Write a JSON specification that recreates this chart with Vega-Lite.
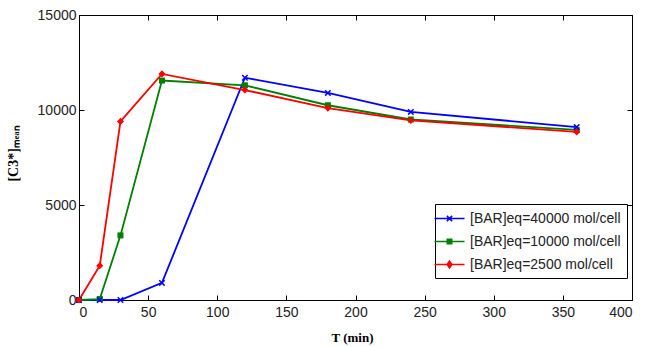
{
  "$schema": "https://vega.github.io/schema/vega-lite/v6.json",
  "autosize": "none",
  "width": 553,
  "height": 285,
  "padding": {"left": 79, "top": 15, "right": 14, "bottom": 47},
  "background": "white",
  "config": {
    "view": {"stroke": "black", "strokeWidth": 1},
    "axis": {
      "grid": false,
      "domainColor": "black",
      "domainWidth": 1,
      "tickColor": "black",
      "tickSize": -5,
      "tickWidth": 1,
      "labelFont": "Liberation Sans",
      "labelFontSize": 14,
      "labelColor": "#222",
      "titleFont": "Liberation Serif",
      "titleFontSize": 13,
      "titleFontWeight": "bold",
      "titleColor": "black",
      "format": "d"
    }
  },
  "data": {
    "values": [
      {"t": 0, "c": 0, "series": "[BAR]eq=40000 mol/cell"},
      {"t": 15, "c": 0, "series": "[BAR]eq=40000 mol/cell"},
      {"t": 30, "c": 0, "series": "[BAR]eq=40000 mol/cell"},
      {"t": 60, "c": 900, "series": "[BAR]eq=40000 mol/cell"},
      {"t": 120, "c": 11700, "series": "[BAR]eq=40000 mol/cell"},
      {"t": 180, "c": 10900, "series": "[BAR]eq=40000 mol/cell"},
      {"t": 240, "c": 9900, "series": "[BAR]eq=40000 mol/cell"},
      {"t": 360, "c": 9100, "series": "[BAR]eq=40000 mol/cell"},
      {"t": 0, "c": 0, "series": "[BAR]eq=10000 mol/cell"},
      {"t": 15, "c": 50, "series": "[BAR]eq=10000 mol/cell"},
      {"t": 30, "c": 3400, "series": "[BAR]eq=10000 mol/cell"},
      {"t": 60, "c": 11550, "series": "[BAR]eq=10000 mol/cell"},
      {"t": 120, "c": 11300, "series": "[BAR]eq=10000 mol/cell"},
      {"t": 180, "c": 10250, "series": "[BAR]eq=10000 mol/cell"},
      {"t": 240, "c": 9500, "series": "[BAR]eq=10000 mol/cell"},
      {"t": 360, "c": 8950, "series": "[BAR]eq=10000 mol/cell"},
      {"t": 0, "c": 0, "series": "[BAR]eq=2500 mol/cell"},
      {"t": 15, "c": 1800, "series": "[BAR]eq=2500 mol/cell"},
      {"t": 30, "c": 9400, "series": "[BAR]eq=2500 mol/cell"},
      {"t": 60, "c": 11900, "series": "[BAR]eq=2500 mol/cell"},
      {"t": 120, "c": 11050, "series": "[BAR]eq=2500 mol/cell"},
      {"t": 180, "c": 10100, "series": "[BAR]eq=2500 mol/cell"},
      {"t": 240, "c": 9450, "series": "[BAR]eq=2500 mol/cell"},
      {"t": 360, "c": 8850, "series": "[BAR]eq=2500 mol/cell"}
    ]
  },
  "resolve": {"axis": {"x": "independent", "y": "independent"}},
  "layer": [
    {
      "mark": {"type": "line", "strokeWidth": 1.8},
      "encoding": {
        "x": {"field": "t", "type": "quantitative", "scale": {"domain": [0, 400], "nice": false},
              "axis": {"values": [0, 50, 100, 150, 200, 250, 300, 350, 400], "title": "T (min)", "labelPadding": 10, "titleX": 273, "titleY": 37, "titleBaseline": "middle", "titleAnchor": "middle", "titleAlign": "center"}},
        "y": {"field": "c", "type": "quantitative", "scale": {"domain": [0, 15000], "nice": false},
              "axis": {"values": [0, 5000, 10000, 15000], "title": "[C3*]ₘₑₐₙ", "labelPadding": 8, "titleX": -66, "titleY": 138, "titleBaseline": "middle", "titleAlign": "center", "titleAngle": -90, "titleFontSize": 14}},
        "color": {"field": "series", "type": "nominal",
                  "scale": {"domain": ["[BAR]eq=40000 mol/cell", "[BAR]eq=10000 mol/cell", "[BAR]eq=2500 mol/cell"], "range": ["#0000ff", "#008000", "#ff0000"]},
                  "legend": {"orient": "none", "legendX": 356, "legendY": 189, "title": null, "padding": 6,
                             "strokeColor": "black", "fillColor": "white", "labelFont": "Liberation Sans", "labelFontSize": 14,
                             "labelColor": "#222", "symbolStrokeWidth": 1.5, "symbolSize": 225, "rowPadding": 7, "labelOffset": 12}},
        "detail": {"field": "series"}
      }
    },
    {
      "transform": [{"filter": "datum.series == '[BAR]eq=10000 mol/cell'"}],
      "mark": {"type": "point", "shape": "square", "filled": true, "size": 36, "opacity": 1},
      "encoding": {
        "x": {"field": "t", "type": "quantitative", "axis": null},
        "y": {"field": "c", "type": "quantitative", "axis": null},
        "color": {"field": "series", "type": "nominal"}
      }
    },
    {
      "transform": [{"filter": "datum.series == '[BAR]eq=40000 mol/cell'"}],
      "mark": {"type": "point", "shape": "M-1,-1L1,1M-1,1L1,-1", "filled": false, "size": 30, "strokeWidth": 1.5, "opacity": 1},
      "encoding": {
        "x": {"field": "t", "type": "quantitative", "axis": null},
        "y": {"field": "c", "type": "quantitative", "axis": null},
        "color": {"field": "series", "type": "nominal"}
      }
    },
    {
      "transform": [{"filter": "datum.series == '[BAR]eq=2500 mol/cell'"}],
      "mark": {"type": "point", "shape": "diamond", "filled": true, "size": 50, "opacity": 1},
      "encoding": {
        "x": {"field": "t", "type": "quantitative", "axis": null},
        "y": {"field": "c", "type": "quantitative", "axis": null},
        "color": {"field": "series", "type": "nominal"}
      }
    },
    {
      "transform": [{"filter": "false"}],
      "mark": {"type": "point", "filled": false, "strokeWidth": 1.5, "opacity": 1},
      "encoding": {
        "x": {"field": "t", "type": "quantitative", "axis": {"orient": "top", "labels": false, "title": null, "values": [0, 50, 100, 150, 200, 250, 300, 350, 400]}},
        "y": {"field": "c", "type": "quantitative", "axis": {"orient": "right", "labels": false, "title": null, "values": [0, 5000, 10000, 15000]}},
        "color": {"field": "series", "type": "nominal"},
        "shape": {"field": "series", "type": "nominal",
                  "scale": {"domain": ["[BAR]eq=40000 mol/cell", "[BAR]eq=10000 mol/cell", "[BAR]eq=2500 mol/cell"],
                            "range": ["M-2,0H2M-0.35,-0.35L0.35,0.35M-0.35,0.35L0.35,-0.35", "M-2,0H2M-0.3,-0.3H0.3V0.3H-0.3Z", "M-2,0H2M0,-0.45L0.32,0L0,0.45L-0.32,0Z"]}}
      }
    }
  ]
}
